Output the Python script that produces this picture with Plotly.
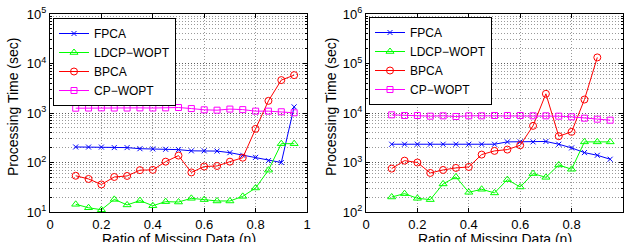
import plotly.graph_objects as go

ratio = [0.10, 0.15, 0.20, 0.25, 0.30, 0.35, 0.40, 0.45, 0.50,
         0.55, 0.60, 0.65, 0.70, 0.75, 0.80, 0.85, 0.90, 0.95]

# Left panel
fpca_l = [206, 205, 205, 200, 200, 190, 188, 185, 182, 172, 172, 170, 158, 140, 127, 109, 100, 1330]
ldcp_l = [14.3, 12.2, 11.1, 18, 13.9, 17, 13.4, 16.2, 15.9, 18.9, 17.8, 16.7, 16.7, 20.7, 30.6, 70, 240, 240]
bpca_l = [54, 46.5, 36, 51, 53.5, 70, 71, 104, 138, 63, 83, 85, 104, 125, 478, 1760, 4620, 5820]
cpwopt_l = [1250, 1260, 1270, 1260, 1260, 1270, 1260, 1270, 1290, 1230, 1160, 1140, 1200, 1170, 1090, 1090, 1060, 1010]

# Right panel
fpca_r = [2340, 2340, 2340, 2340, 2340, 2340, 2340, 2340, 2340, 2610, 2610, 2610, 2660, 2340, 1970, 1585, 1400, 1165]
ldcp_r = [201, 235, 189, 178, 369, 511, 250, 288, 243, 451, 320, 597, 502, 892, 730, 2610, 2610, 2610]
bpca_r = [753, 1090, 1000, 615, 707, 777, 813, 1445, 1715, 1824, 2230, 5500, 24400, 3400, 4160, 18700, 132700]
cpwopt_r = [9180, 8900, 8900, 8630, 8780, 8500, 8780, 8780, 8900, 8900, 8900, 8780, 8780, 8630, 8360, 7860, 7500, 7160]

names = ["FPCA", "LDCP\u2212WOPT", "BPCA", "CP\u2212WOPT"]
colors = ["#0000ff", "#00ff00", "#ff0000", "#ff00ff"]
symbols = ["x-thin", "triangle-up-open", "circle-open", "square-open"]
sizes = [5, 7, 7, 6]

x_ticks = [0, 0.2, 0.4, 0.6, 0.8, 1]
x_ticktext = ["0", "0.2", "0.4", "0.6", "0.8", "1"]

x_title = "Ratio of Missing Data (\u03b7)"
y_title = "Processing Time (sec)"

FONT = "Liberation Sans, Arial, sans-serif"
W, H = 625, 242

fig = go.Figure()

panels = [
    ([fpca_l, ldcp_l, bpca_l, cpwopt_l], "x", "y", "legend"),
    ([fpca_r, ldcp_r, bpca_r, cpwopt_r], "x2", "y2", "legend2"),
]
for series, xa, ya, lg in panels:
    for vals, name, col, sym, sz in zip(series, names, colors, symbols, sizes):
        fig.add_trace(go.Scatter(
            x=ratio[:len(vals)], y=vals, name=name, mode="lines+markers",
            line=dict(color=col, width=1),
            marker=dict(symbol=sym, size=sz, color=col, line=dict(color=col, width=1)),
            xaxis=xa, yaxis=ya, legend=lg,
        ))

grid_col = "rgba(0,0,0,0.4)"
grid_dash = "1px,2px"

def xaxis(domain, anchor):
    return dict(
        domain=domain, anchor=anchor, range=[0, 1],
        tickmode="array", tickvals=x_ticks, ticktext=x_ticktext,
        ticks="inside", ticklen=4, tickcolor="black",
        showline=True, linecolor="black", linewidth=1, mirror="ticks",
        showgrid=True, gridcolor=grid_col, griddash=grid_dash, gridwidth=1,
        zeroline=False, automargin=False,
        tickfont=dict(family=FONT, size=13, color="black"),
    )

def yaxis(domain, anchor, lo, hi):
    vals = [10 ** k for k in range(lo, hi + 1)]
    text = ["10<sup>%d</sup>" % k for k in range(lo, hi + 1)]
    return dict(
        domain=domain, anchor=anchor, type="log", range=[lo, hi],
        tickmode="array", tickvals=vals, ticktext=text,
        ticks="inside", ticklen=4, tickcolor="black",
        showline=True, linecolor="black", linewidth=1, mirror="ticks",
        showgrid=True, gridcolor=grid_col, griddash=grid_dash, gridwidth=1,
        minor=dict(tickmode="linear", dtick="D1", ticks="inside", ticklen=2, tickcolor="black",
                   showgrid=True, gridcolor=grid_col, griddash=grid_dash, gridwidth=1),
        zeroline=False, automargin=False,
        tickfont=dict(family=FONT, size=13, color="black"),
    )

ydom = [1 - 212 / H, 1 - 14 / H]
title_font = dict(family=FONT, size=14, color="black")
annotations = [
    dict(text=x_title, x=178.5 / W, y=1 - 229 / H, xref="paper", yref="paper",
         xanchor="center", yanchor="top", showarrow=False, font=title_font),
    dict(text=x_title, x=494.5 / W, y=1 - 229 / H, xref="paper", yref="paper",
         xanchor="center", yanchor="top", showarrow=False, font=title_font),
    dict(text=y_title, x=13 / W, y=1 - 107 / H, xref="paper", yref="paper",
         xanchor="center", yanchor="middle", textangle=-90, showarrow=False, font=title_font),
    dict(text=y_title, x=331 / W, y=1 - 107 / H, xref="paper", yref="paper",
         xanchor="center", yanchor="middle", textangle=-90, showarrow=False, font=title_font),
]

leg_common = dict(xanchor="left", yanchor="top", bgcolor="white", bordercolor="black",
                  borderwidth=1, font=dict(family=FONT, size=12, color="black"),
                  tracegroupgap=0, itemwidth=30)

fig.update_layout(
    width=W, height=H,
    margin=dict(l=0, r=0, t=0, b=0),
    paper_bgcolor="white", plot_bgcolor="white",
    font=dict(family=FONT, size=14, color="black"),
    xaxis=xaxis([50 / W, 307 / W], "y"),
    yaxis=yaxis(ydom, "x", 1, 5),
    xaxis2=xaxis([366 / W, 623 / W], "y2"),
    yaxis2=yaxis(ydom, "x2", 2, 6),
    legend=dict(x=53 / W, y=1 - 18 / H, **leg_common),
    legend2=dict(x=369 / W, y=1 - 17 / H, **leg_common),
    showlegend=True,
    annotations=annotations,
)

fig.write_html("out.html", config={"displayModeBar": False},
               post_script="document.body.style.margin='0';document.body.style.overflow='hidden';")
